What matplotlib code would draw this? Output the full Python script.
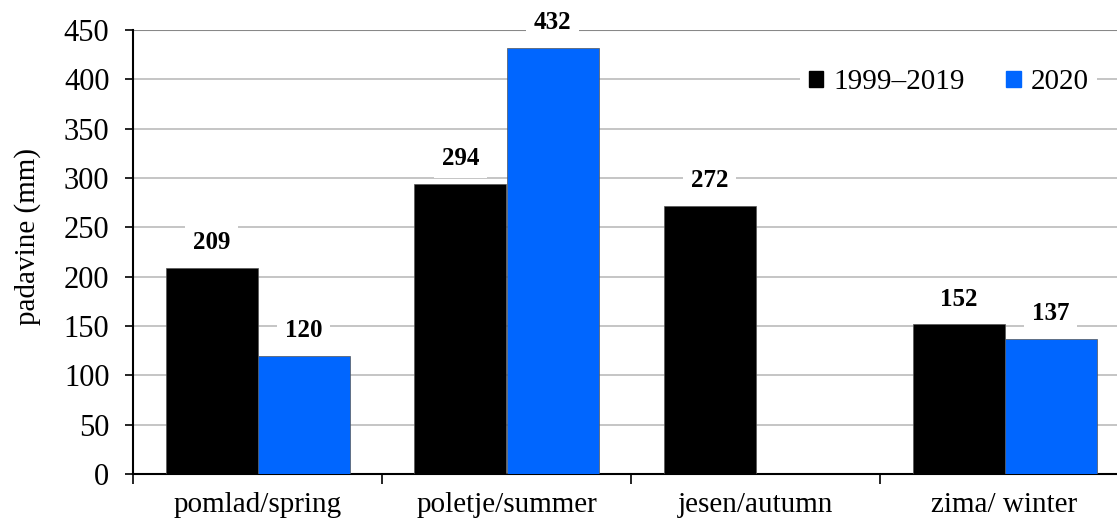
import matplotlib
matplotlib.use("Agg")
import matplotlib.pyplot as plt
import numpy as np
from matplotlib.patches import Patch

categories = ["pomlad/spring", "poletje/summer", "jesen/autumn", "zima/ winter"]
series_names = ["1999\u20132019", "2020"]
values_1999_2019 = [209, 294, 272, 152]
values_2020 = [120, 432, np.nan, 137]
colors = ["#000000", "#0066FF"]

plt.rcParams['font.family'] = ['Liberation Serif', 'DejaVu Serif']

fig = plt.figure(figsize=(11.17, 5.23), dpi=100)
cat_px = 249
ax = fig.add_axes([133/1117, 1-474/523, 1-133/1117, (474-30)/523])

w = 92/cat_px
x = np.arange(len(categories)) + 0.5
for vals, off, c, name in [(values_1999_2019, -w/2, colors[0], series_names[0]),
                           (values_2020, w/2, colors[1], series_names[1])]:
    for xi, v in zip(x, vals):
        if np.isnan(v):
            continue
        ax.bar(xi + off, v, width=w, color=c, edgecolor="#555555", linewidth=0.5, zorder=3)
        ax.annotate(f"{v:.0f}", (xi + off, v), xytext=(0, 18), textcoords="offset points",
                    ha="center", va="center", fontsize=18, fontweight="bold",
                    bbox=dict(boxstyle="square,pad=0.3", fc="white", ec="none"), zorder=5,
                    annotation_clip=False)

ax.set_xlim(0, (1117-133)/cat_px)
ax.set_ylim(0, 450)
ax.set_yticks(np.arange(0, 451, 50))
ax.set_xticks([0, 1, 2, 3])
ax.set_xticklabels([])
ax.set_xticks(x, minor=True)
ax.set_xticklabels(categories, minor=True, fontsize=21)
ax.tick_params(axis="x", which="minor", length=0, pad=13)
ax.tick_params(axis="x", which="major", length=7, width=1.2, direction="out")
ax.tick_params(axis="y", length=6, width=1.2, labelsize=22, pad=11)
ax.yaxis.grid(True, color="#BBBBBB", linewidth=1.2, zorder=0)
ax.axhline(450, color="#888888", linewidth=1.5, zorder=1)
ax.set_axisbelow(True)
for s in ["top", "right"]:
    ax.spines[s].set_visible(False)
for s in ["left", "bottom"]:
    ax.spines[s].set_linewidth(1.5)
ax.set_ylabel("padavine (mm)", fontsize=21)
ax.yaxis.set_label_coords(-0.093, 0.534)

handles = [Patch(color=colors[0], label=series_names[0]), Patch(color=colors[1], label=series_names[1])]
leg = ax.legend(handles=handles, loc="center right", bbox_to_anchor=(0.995, 0.882), ncol=2,
                fontsize=21, frameon=True, framealpha=1, edgecolor="none", fancybox=False,
                handlelength=0.5, handleheight=0.5, handletextpad=0.35, columnspacing=1.4,
                borderpad=0.3)
leg.set_zorder(6)

fig.savefig("out.png", dpi=100)
